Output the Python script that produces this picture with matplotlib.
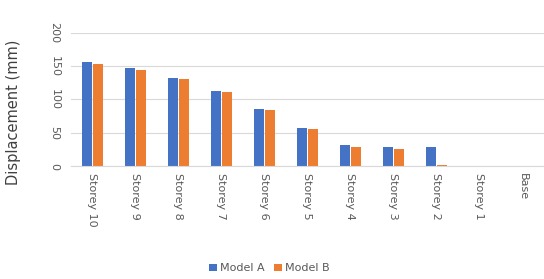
import numpy as np
import matplotlib.pyplot as plt

# storey labels and displacement values (mm)
storeys = ['Storey 10', 'Storey 9', 'Storey 8', 'Storey 7', 'Storey 6', 'Storey 5',
           'Storey 4', 'Storey 3', 'Storey 2', 'Storey 1', 'Base']
model_a = [156, 147, 133, 113, 86, 57, 31, 29, 28, 0.5, 0]
model_b = [153, 144, 131, 111, 84, 55, 29, 26, 2, 0.5, 0]
y_ticks = [0, 50, 100, 150, 200]

blue = '#4472C4'
orange = '#ED7D31'
grey = '#595959'

fig = plt.figure(figsize=(5.44, 2.79), dpi=100)
ax = fig.add_axes([0.13, 0.405, 0.87, 0.477])

x = np.arange(len(storeys))
w = 0.23
ax.bar(x - 0.128, model_a, w, color=blue, label='Model A')
ax.bar(x + 0.128, model_b, w, color=orange, label='Model B')

ax.set_xlim(-0.5, len(storeys) - 0.5)
ax.set_ylim(0, 200)
ax.set_yticks(y_ticks)
ax.set_yticklabels([str(v) for v in y_ticks], rotation=-90, va='center',
                   fontsize=8, color=grey)
ax.set_xticks(x)
ax.set_xticklabels(storeys, rotation=-90, va='top', ha='center',
                   fontsize=8, color=grey)
ax.tick_params(length=0, pad=5)
ax.tick_params(axis='y', pad=8)

ax.yaxis.grid(True, color='#D9D9D9', linewidth=0.8)
ax.set_axisbelow(True)
for s in ['top', 'right', 'left']:
    ax.spines[s].set_visible(False)
ax.spines['bottom'].set_color('#D9D9D9')

ax.set_ylabel('Displacement (mm)', fontsize=10.5, color='#404040')
ax.yaxis.set_label_coords(-0.105, 0.40)

fig.legend(loc='center', bbox_to_anchor=(0.495, 0.038), ncol=2, frameon=False,
           fontsize=8, handlelength=0.7, handleheight=0.7, handletextpad=0.3,
           columnspacing=0.8, labelcolor=grey)

fig.savefig('out.png', dpi=100)
